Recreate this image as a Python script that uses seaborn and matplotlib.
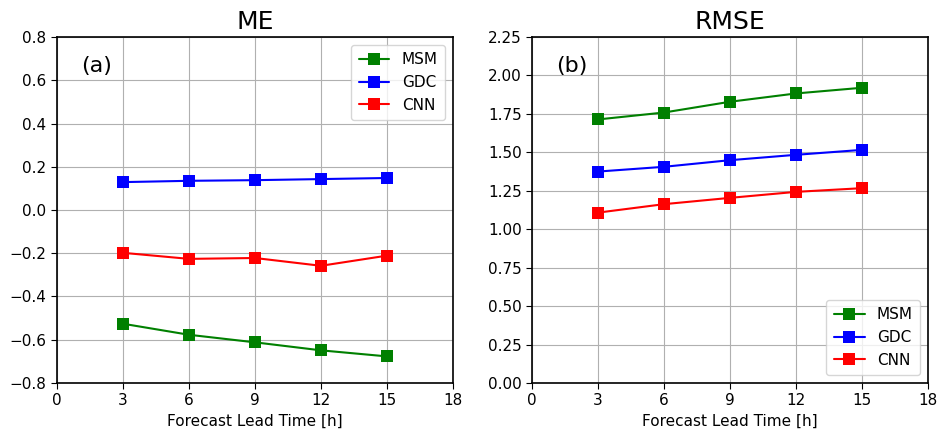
import pandas as pd
import matplotlib.pyplot as plt
import seaborn as sns

# 데이터
lead_time = [3, 6, 9, 12, 15]
models = ["MSM", "GDC", "CNN"]
colors = ["green", "blue", "red"]

me_msm = [-0.526, -0.577, -0.612, -0.649, -0.677]
me_gdc = [0.129, 0.135, 0.138, 0.143, 0.148]
me_cnn = [-0.198, -0.226, -0.222, -0.258, -0.211]

rmse_msm = [1.714, 1.759, 1.829, 1.883, 1.920]
rmse_gdc = [1.375, 1.406, 1.449, 1.484, 1.516]
rmse_cnn = [1.108, 1.163, 1.204, 1.243, 1.267]

x_ticks = [0, 3, 6, 9, 12, 15, 18]

sns.set_style("white")
plt.rcParams['font.family'] = ['DejaVu Sans']
plt.rcParams['text.color'] = 'black'
plt.rcParams['axes.labelcolor'] = 'black'
plt.rcParams['xtick.color'] = 'black'
plt.rcParams['ytick.color'] = 'black'


def make_df(msm, gdc, cnn):
    rows = []
    for name, vals in zip(models, [msm, gdc, cnn]):
        for t, v in zip(lead_time, vals):
            rows.append({"lead": t, "value": v, "model": name})
    return pd.DataFrame(rows)


df_me = make_df(me_msm, me_gdc, me_cnn)
df_rmse = make_df(rmse_msm, rmse_gdc, rmse_cnn)

fig = plt.figure(figsize=(9.39, 4.33), dpi=100)
ax1 = fig.add_axes([0.0607, 0.1155, 0.4217, 0.799])
ax2 = fig.add_axes([0.5666, 0.1155, 0.4217, 0.799])

panels = [
    (ax1, df_me, "ME", "(a)", (-0.8, 0.8), [i / 10 for i in range(-8, 9, 2)], "upper right", "{:.1f}"),
    (ax2, df_rmse, "RMSE", "(b)", (0, 2.25), [i * 0.25 for i in range(10)], "lower right", "{:.2f}"),
]

for ax, df, title, tag, ylim, yticks, loc, fmt in panels:
    sns.lineplot(data=df, x="lead", y="value", hue="model", hue_order=models,
                 palette=colors, marker="s", markersize=9, markeredgewidth=0,
                 linewidth=1.5, ax=ax)
    ax.set_xlim(0, 18)
    ax.set_ylim(*ylim)
    ax.set_xticks(x_ticks)
    ax.set_yticks(yticks)
    ax.set_yticklabels([fmt.format(v).replace("-", "\u2212") for v in yticks])
    ax.grid(True, color="#b0b0b0", linewidth=0.8)
    ax.set_title(title, fontsize=18, color="black")
    ax.set_xlabel("Forecast Lead Time [h]", fontsize=11, color="black")
    ax.set_ylabel("")
    ax.tick_params(labelsize=11, length=4, direction="out", bottom=True, left=True,
                   colors="black")
    for sp in ax.spines.values():
        sp.set_color("black")
        sp.set_linewidth(1.2)
    ax.text(0.06, 0.9, tag, transform=ax.transAxes, fontsize=16, color="black")
    leg = ax.legend(loc=loc, fontsize=11, framealpha=0.8, edgecolor="#cccccc",
                    borderpad=0.5, handlelength=2.0)
    for t in leg.get_texts():
        t.set_color("black")

fig.savefig("out.png", dpi=100)
